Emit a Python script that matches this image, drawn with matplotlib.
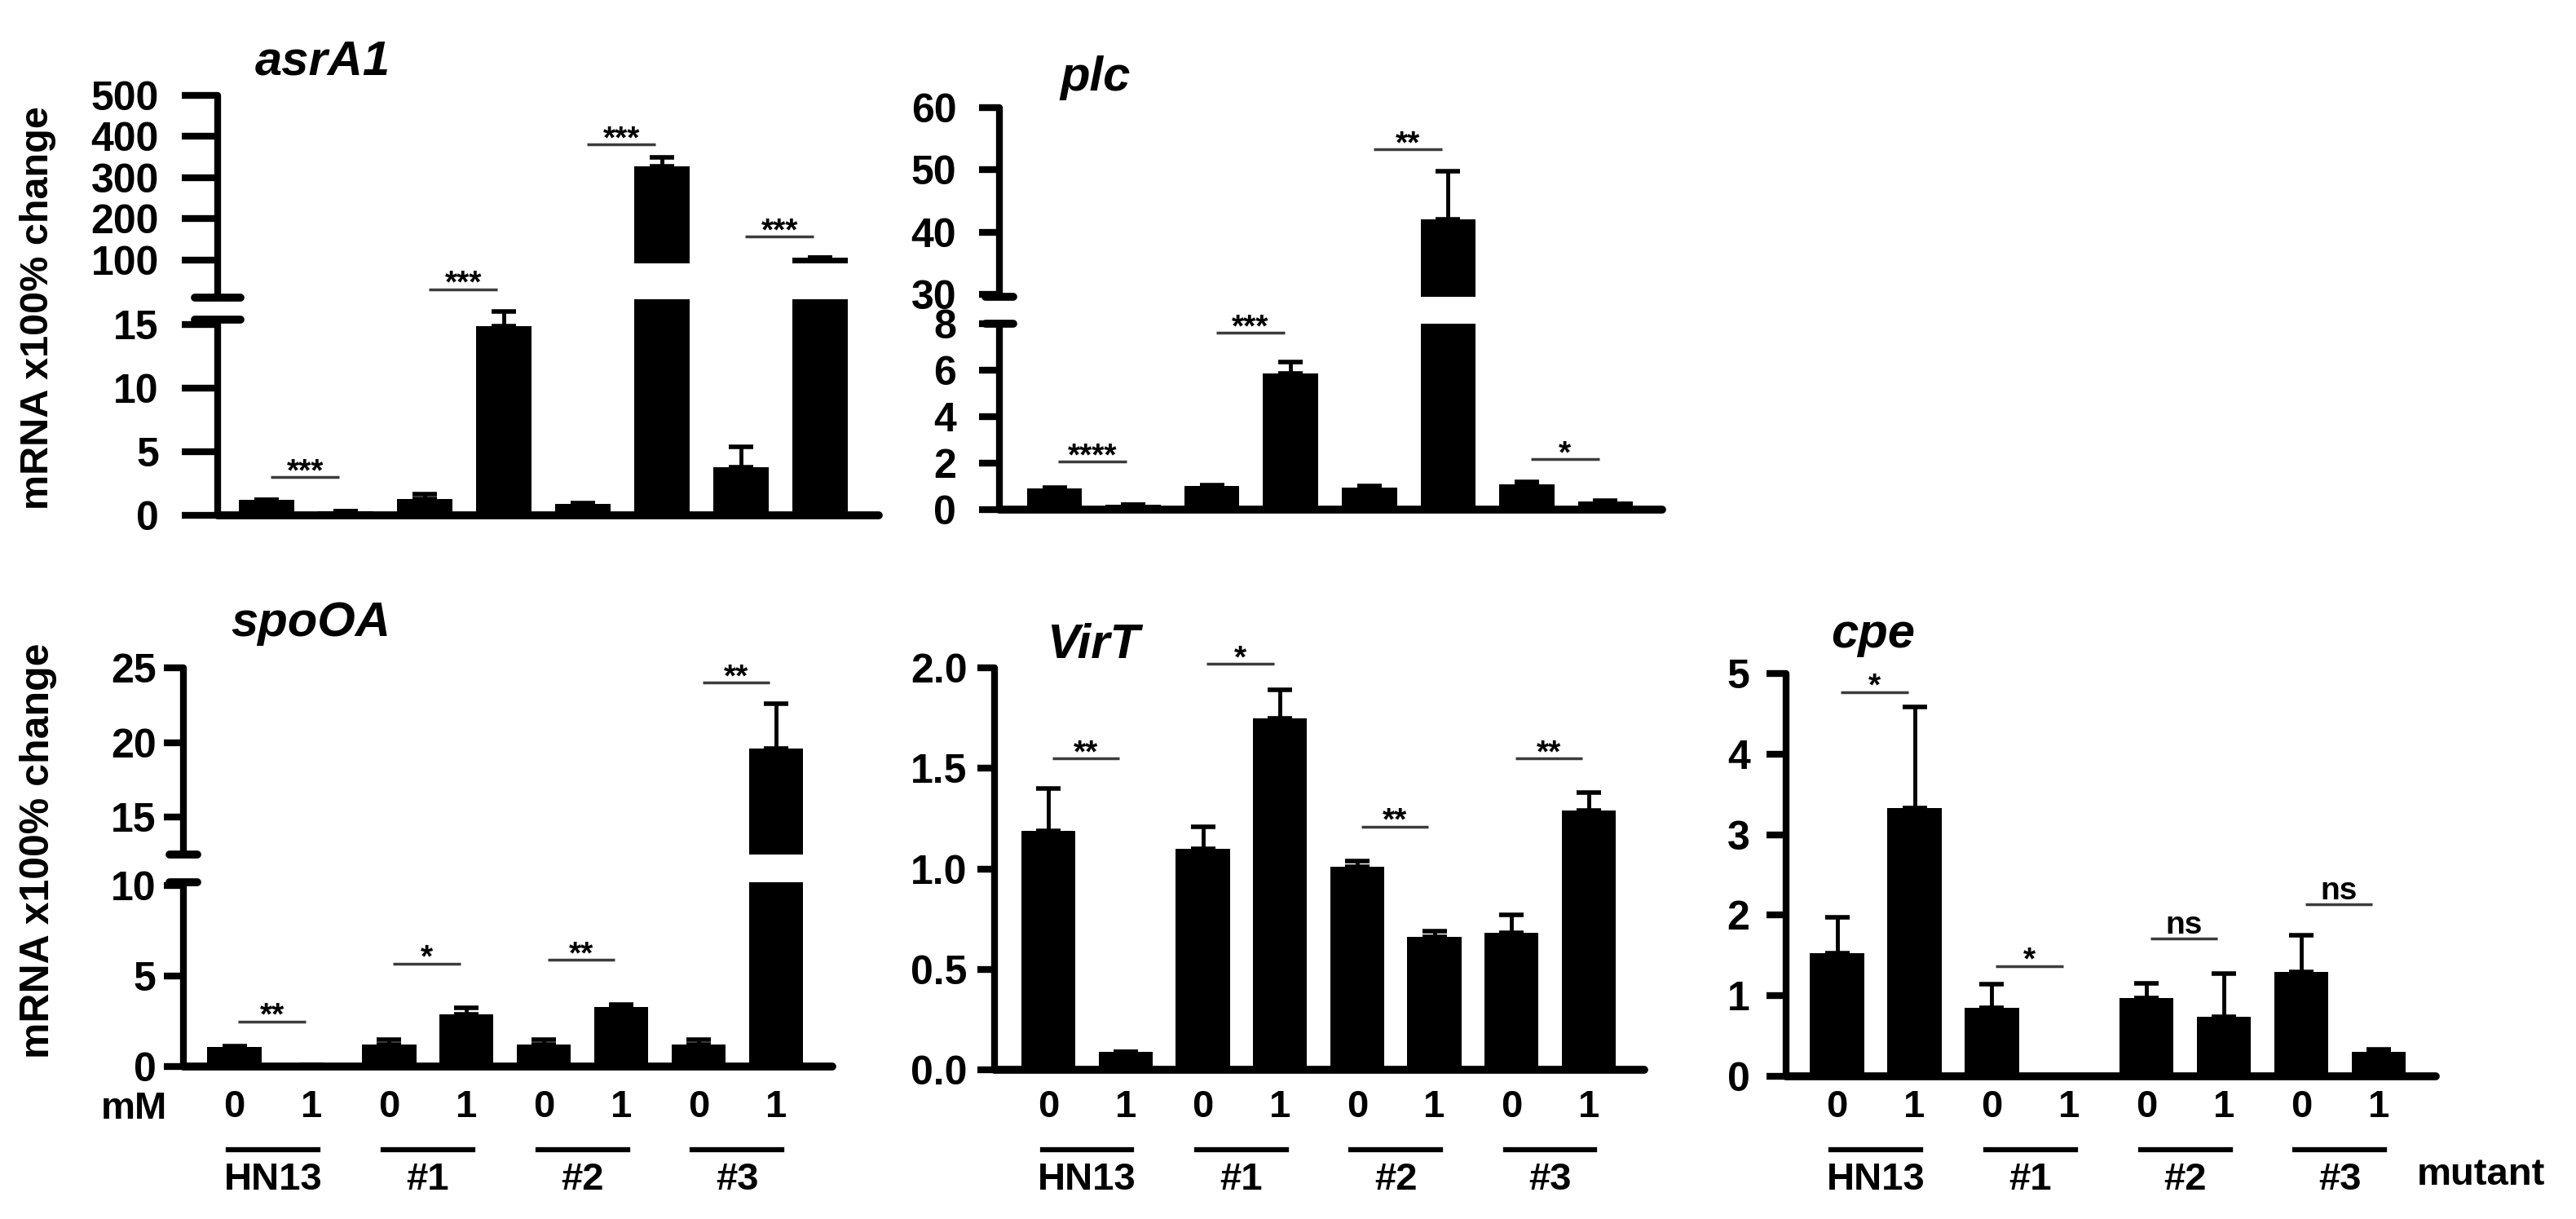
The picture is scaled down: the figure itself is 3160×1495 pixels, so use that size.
"""qPCR bar panels (mRNA x100% change) for five genes, GraphPad-like style."""

import matplotlib
matplotlib.use("Agg")
import matplotlib.pyplot as plt
import matplotlib.transforms as mtransforms
import numpy as np

W, H = 3160, 1495

# ---- data -------------------------------------------------------------
CONDITIONS = ["0", "1", "0", "1", "0", "1", "0", "1"]
STRAINS = ["HN13", "#1", "#2", "#3"]

ASRA1_MEAN = [1.2, 0.3, 1.3, 14.9, 0.9, 328, 3.8, 106]
ASRA1_ERR = [0.05, 0.0, 0.35, 1.15, 0.05, 22, 1.6, 0.0]
ASRA1_SIG = ["***", "***", "***", "***"]
ASRA1_SIG_Y = [3.0, 17.8, 381, 157]

PLC_MEAN = [0.9, 0.2, 1.0, 5.85, 0.95, 42, 1.1, 0.35]
PLC_ERR = [0.05, 0.0, 0.05, 0.5, 0.05, 7.8, 0.1, 0.05]
PLC_SIG = ["****", "***", "**", "*"]
PLC_SIG_Y = [2.06, 7.6, 53.3, 2.18]

SPO0A_MEAN = [1.1, 0.1, 1.2, 2.9, 1.2, 3.3, 1.2, 19.6]
SPO0A_ERR = [0.05, 0.0, 0.3, 0.35, 0.3, 0.15, 0.3, 3.0]
SPO0A_SIG = ["**", "*", "**", "**"]
SPO0A_SIG_Y = [2.5, 5.7, 5.9, 24.0]

VIRT_MEAN = [1.19, 0.09, 1.10, 1.75, 1.01, 0.66, 0.68, 1.29]
VIRT_ERR = [0.21, 0.0, 0.11, 0.14, 0.03, 0.03, 0.09, 0.09]
VIRT_SIG = ["**", "*", "**", "**"]
VIRT_SIG_Y = [1.55, 2.02, 1.21, 1.55]

CPE_MEAN = [1.53, 3.33, 0.85, 0.0, 0.97, 0.74, 1.30, 0.30]
CPE_ERR = [0.44, 1.25, 0.29, 0.0, 0.18, 0.54, 0.45, 0.03]
CPE_SIG = ["*", "*", "ns", "ns"]
CPE_SIG_Y = [4.77, 1.37, 1.71, 2.14]

YLABEL = "mRNA x100% change"

plt.rcParams["font.family"] = ["Liberation Sans", "DejaVu Sans"]
plt.rcParams["font.weight"] = "bold"

fig = plt.figure(figsize=(W / 100, H / 100), dpi=100)


def fy(py):
    return 1 - py / H


def add_axes_px(left, top, right, bottom):
    return fig.add_axes([left / W, 1 - bottom / H, (right - left) / W, (bottom - top) / H])


def style_axis(ax, xlim, ylim, ticks, fmt, tick_len, pad, bottom=True, bounds=None):
    ax.set_xlim(xlim)
    ax.set_ylim(ylim)
    ax.set_facecolor("none")
    for s in ["top", "right"]:
        ax.spines[s].set_visible(False)
    ax.spines["bottom"].set_visible(bottom)
    ax.spines["left"].set_linewidth(6)
    ax.spines["bottom"].set_linewidth(7)
    ax.spines["left"].set_capstyle("round")
    ax.spines["bottom"].set_capstyle("round")
    if bounds is not None:
        ax.spines["left"].set_bounds(*bounds)
    ax.set_yticks(ticks)
    ax.set_yticklabels([fmt.format(t) for t in ticks])
    ax.tick_params(axis="y", length=tick_len, width=6, pad=pad, labelsize=36)
    ax.tick_params(axis="x", length=0, labelbottom=False)


def draw_bars(ax, mean, err):
    x = np.arange(len(mean))
    ax.bar(x, mean, width=0.7, color="black", edgecolor="none", zorder=2)
    ax.errorbar(x, mean, yerr=[np.zeros(len(err)), err], fmt="none",
                ecolor="black", elinewidth=3.5, capsize=11, capthick=4, zorder=3)


def break_mark(ax, y, half_px, width_px):
    d = half_px / width_px
    ax.plot([-d, d], [y, y], transform=ax.get_yaxis_transform(), color="black",
            lw=7, clip_on=False, solid_capstyle="round", zorder=5)


def draw_sig(ax_lo, ax_hi, labels, ys):
    for i, lab, y in zip(range(0, 8, 2), labels, ys):
        ax = ax_lo
        if ax_hi is not None and y > ax_hi.get_ylim()[0]:
            ax = ax_hi
        ax.plot([i + 0.05, i + 0.92], [y, y], color="#3c3c3c", lw=2.5,
                clip_on=False, solid_capstyle="butt")
        dy = 4 if lab == "ns" else -3
        ax.annotate(lab, xy=(i + 0.485, y), xytext=(0, dy), textcoords="offset points",
                    ha="center", va="baseline", fontsize=28, annotation_clip=False)


def draw_groups(ax):
    trans = mtransforms.blended_transform_factory(ax.transData, fig.transFigure)
    for x, c in enumerate(CONDITIONS):
        ax.text(x, fy(1358), c, transform=trans, ha="center", va="center", fontsize=34)
    for g, s in enumerate(STRAINS):
        x0 = 2 * g
        ax.plot([x0 - 0.08, x0 + 1.08], [fy(1410)] * 2, transform=trans,
                color="black", lw=4.5, clip_on=False)
        ax.text(x0 + 0.5, fy(1447), s, transform=trans, ha="center", va="center", fontsize=34)


def title(px, py, text):
    fig.text(px / W, fy(py), text, ha="left", va="baseline", fontsize=43,
             style="italic", weight="bold")


# ---- asrA1 (broken axis) ------------------------------------------------
xl = (-0.62, 7.74)
a_hi = add_axes_px(267, 117, 1078, 323)
a_lo = add_axes_px(267, 367, 1078, 632)
for ax in (a_hi, a_lo):
    draw_bars(ax, ASRA1_MEAN, ASRA1_ERR)
style_axis(a_hi, xl, (92, 500), [100, 200, 300, 400, 500], "{:d}", 32, 20,
           bottom=False, bounds=(8.8, 500))
style_axis(a_lo, xl, (0, 17), [0, 5, 10, 15], "{:d}", 32, 20, bounds=(0, 15.4))
break_mark(a_hi, 8.8, 28, 811)
break_mark(a_lo, 15.4, 28, 811)
draw_sig(a_lo, a_hi, ASRA1_SIG, ASRA1_SIG_Y)
title(313, 92, "asrA1")

# ---- plc (broken axis) --------------------------------------------------
xl = (-0.70, 7.72)
p_hi = add_axes_px(1226, 132, 2039, 364)
p_lo = add_axes_px(1226, 397, 2039, 625)
for ax in (p_hi, p_lo):
    draw_bars(ax, PLC_MEAN, PLC_ERR)
style_axis(p_hi, xl, (29.6, 60), [30, 40, 50, 60], "{:d}", 18, 20, bottom=False)
style_axis(p_lo, xl, (0, 8), [0, 2, 4, 6, 8], "{:d}", 18, 20)
break_mark(p_hi, 29.6, 17, 813)
break_mark(p_lo, 8, 17, 813)
draw_sig(p_lo, p_hi, PLC_SIG, PLC_SIG_Y)
title(1300, 111, "plc")

# ---- spoOA (broken axis) ------------------------------------------------
xl = (-0.66, 7.73)
s_hi = add_axes_px(225, 819, 1021, 1048)
s_lo = add_axes_px(225, 1082, 1021, 1308)
for ax in (s_hi, s_lo):
    draw_bars(ax, SPO0A_MEAN, SPO0A_ERR)
style_axis(s_hi, xl, (12.5, 25), [15, 20, 25], "{:d}", 17, 7, bottom=False)
style_axis(s_lo, xl, (0, 10.2), [0, 5, 10], "{:d}", 17, 7)
break_mark(s_hi, 12.5, 17, 796)
break_mark(s_lo, 10.2, 17, 796)
draw_sig(s_lo, s_hi, SPO0A_SIG, SPO0A_SIG_Y)
draw_groups(s_lo)
title(283, 780, "spoOA")

# ---- VirT ---------------------------------------------------------------
v = add_axes_px(1220, 819, 2017, 1312)
draw_bars(v, VIRT_MEAN, VIRT_ERR)
style_axis(v, (-0.70, 7.72), (0, 2.0), [0.0, 0.5, 1.0, 1.5, 2.0], "{:.1f}", 15, 9)
draw_sig(v, None, VIRT_SIG, VIRT_SIG_Y)
draw_groups(v)
title(1284, 807, "VirT")

# ---- cpe ----------------------------------------------------------------
c = add_axes_px(2191, 826, 2988, 1320)
draw_bars(c, CPE_MEAN, CPE_ERR)
style_axis(c, (-0.66, 7.74), (0, 5), [0, 1, 2, 3, 4, 5], "{:d}", 17, 15)
draw_sig(c, None, CPE_SIG, CPE_SIG_Y)
draw_groups(c)
title(2246, 794, "cpe")

# ---- shared labels ------------------------------------------------------
fig.text(47 / W, fy(378), YLABEL, rotation=90, ha="center", va="center", fontsize=35)
fig.text(47 / W, fy(1043), YLABEL, rotation=90, ha="center", va="center", fontsize=36)
fig.text(164 / W, fy(1360), "mM", ha="center", va="center", fontsize=34)
fig.text(2965 / W, fy(1441), "mutant", ha="left", va="center", fontsize=34)

fig.savefig("out.png", dpi=100, facecolor="white")
